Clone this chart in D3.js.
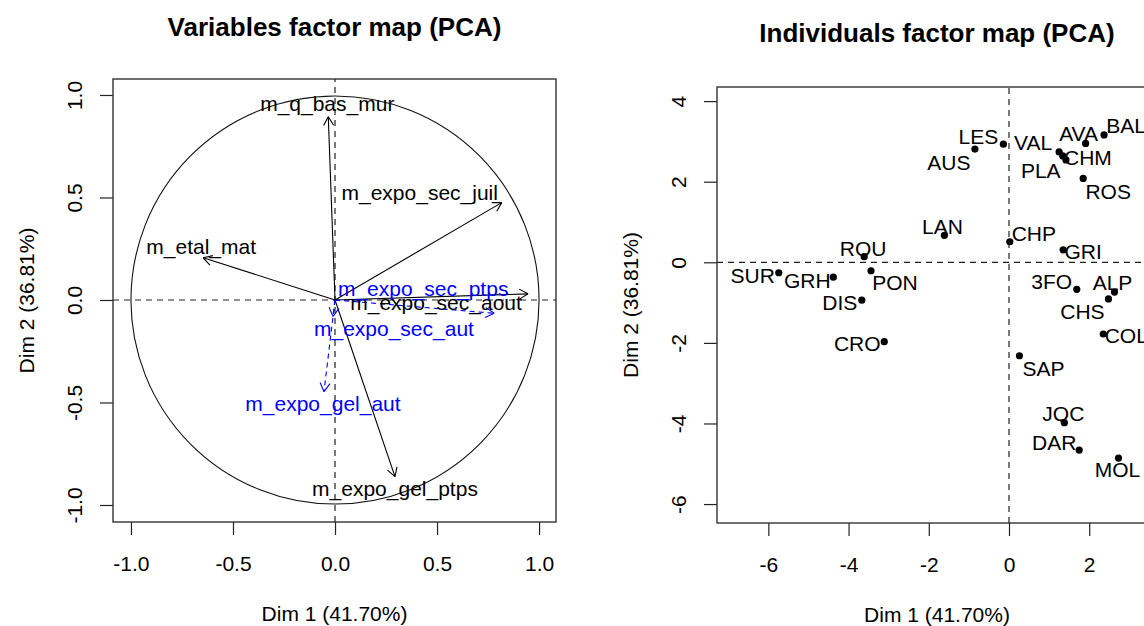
<!DOCTYPE html>
<html>
<head>
<meta charset="utf-8">
<script src="https://cdn.jsdelivr.net/npm/d3@7"></script>
<style>
  html, body { margin: 0; padding: 0; background: #fff; }
  svg { display: block; font-family: "Liberation Sans", Arial, sans-serif; }
</style>
</head>
<body>
<svg id="chart" width="1144" height="626"></svg>
<script>
// ---------------- DATA ----------------
// Variables factor map: active variables (black) and supplementary (blue, dashed)
const varNames = ["m_q_bas_mur", "m_expo_sec_juil", "m_etal_mat", "m_expo_sec_aout",
                  "m_expo_gel_ptps", "m_expo_sec_ptps", "m_expo_sec_aut", "m_expo_gel_aut"];
const varDim1 = [-0.033, 0.817, -0.646, 0.946, 0.294, 0.78, -0.01, -0.054];
const varDim2 = [0.894, 0.475, 0.206, 0.03, -0.862, -0.065, -0.08, -0.447];
const varSupp = [false, false, false, false, false, true, true, true];

// Individuals factor map
const indNames = ["LES", "AUS", "VAL", "PLA", "CHM", "AVA", "BAL", "ROS", "LAN", "CHP", "GRI",
                  "ROU", "SUR", "GRH", "PON", "DIS", "CRO", "3FO", "ALP", "CHS", "COL",
                  "SAP", "JQC", "DAR", "MOL"];
const indDim1 = [-0.14, -0.85, 1.25, 1.34, 1.42, 1.91, 2.37, 1.85, -1.61, 0.02, 1.35,
                 -3.61, -5.74, -4.38, -3.44, -3.67, -3.11, 1.69, 2.63, 2.48, 2.35,
                 0.26, 1.38, 1.75, 2.73];
const indDim2 = [2.93, 2.81, 2.74, 2.64, 2.54, 2.95, 3.16, 2.08, 0.67, 0.51, 0.31,
                 0.14, -0.26, -0.37, -0.21, -0.94, -1.97, -0.67, -0.74, -0.91, -1.78,
                 -2.32, -3.98, -4.66, -4.86];

// Tick labels
const varTicks = [-1.0, -0.5, 0.0, 0.5, 1.0];
const indTicksX = [-6, -4, -2, 0, 2];
const indTicksY = [-6, -4, -2, 0, 2, 4];

// Titles
const titleVar = "Variables factor map (PCA)";
const titleInd = "Individuals factor map (PCA)";
const xTitle = "Dim 1 (41.70%)";
const yTitle = "Dim 2 (36.81%)";

// ---------------- LAYOUT (label offsets in px, from mark to label centre) ----------------
const varLabelOffset = {
  "m_q_bas_mur": [-1, -13], "m_expo_sec_juil": [-82, -10], "m_etal_mat": [-2, -11],
  "m_expo_sec_aout": [-92, 9], "m_expo_gel_ptps": [0, 12], "m_expo_sec_ptps": [-71, -25],
  "m_expo_sec_aut": [61, 12], "m_expo_gel_aut": [-1, 12]
};
const indLabelOffset = {
  "LES": [-25, -8], "AUS": [-26, 13], "VAL": [-26, -9], "PLA": [-22, 15], "CHM": [22, -2],
  "AVA": [-7, -10], "BAL": [22, -9], "ROS": [25, 13], "LAN": [-2, -9], "CHP": [24, -8],
  "GRI": [20, 2], "ROU": [-1, -8], "SUR": [-26, 3], "GRH": [-26, 3], "PON": [24, 12],
  "DIS": [-22, 2], "CRO": [-27, 2], "3FO": [-25, -8], "ALP": [-2, -10], "CHS": [-26, 13],
  "COL": [23, 1], "SAP": [24, 13], "JQC": [-1, -9], "DAR": [-25, -8], "MOL": [-1, 11]
};

const svg = d3.select("#chart");
const FS = 21;

function dashedRefs(g, x, y) {
  g.append("line").attr("x1", x.range()[0]).attr("x2", x.range()[1])
    .attr("y1", y(0)).attr("y2", y(0))
    .attr("stroke", "#222").attr("stroke-width", 1.2).attr("stroke-dasharray", "6,5");
  g.append("line").attr("y1", y.range()[0]).attr("y2", y.range()[1])
    .attr("x1", x(0)).attr("x2", x(0))
    .attr("stroke", "#222").attr("stroke-width", 1.2).attr("stroke-dasharray", "6,5");
}

function drawFrame(x, y, xt, yt, fmt, title, titleY) {
  const g = svg.append("g");
  const xa = d3.axisBottom(x).tickValues(xt).tickSize(13).tickSizeOuter(0).tickFormat(fmt);
  const gx = g.append("g").attr("transform", `translate(0,${y.range()[0]})`).call(xa);
  gx.select(".domain").remove();
  gx.selectAll(".tick line").attr("stroke", "#222").attr("stroke-width", 1.2);
  gx.selectAll(".tick text").attr("y", 41).attr("dy", null)
    .attr("dominant-baseline", "central")
    .attr("font-size", FS).attr("font-family", "Liberation Sans, Arial, sans-serif").attr("fill", "#000");

  const ya = d3.axisLeft(y).tickValues(yt).tickSize(13).tickSizeOuter(0).tickFormat(fmt);
  const gy = g.append("g").attr("transform", `translate(${x.range()[0]},0)`).call(ya);
  gy.select(".domain").remove();
  gy.selectAll(".tick line").attr("stroke", "#222").attr("stroke-width", 1.2);
  gy.selectAll(".tick text").attr("x", 0).attr("y", -39).attr("dy", null)
    .attr("text-anchor", "middle").attr("dominant-baseline", "central")
    .attr("transform", "rotate(-90)")
    .attr("font-size", FS).attr("font-family", "Liberation Sans, Arial, sans-serif").attr("fill", "#000");

  // box
  const [x0, x1] = x.range(), [y0, y1] = y.range();
  g.append("rect").attr("x", x0).attr("y", y1).attr("width", x1 - x0).attr("height", y0 - y1)
    .attr("fill", "none").attr("stroke", "#333").attr("stroke-width", 1.4);

  const cx = (x0 + x1) / 2, cy = (y0 + y1) / 2;
  g.append("text").attr("x", cx).attr("y", titleY).attr("text-anchor", "middle")
    .attr("font-size", 26).attr("font-weight", "bold").attr("fill", "#000").text(title);
  g.append("text").attr("x", cx).attr("y", y0 + 91).attr("text-anchor", "middle")
    .attr("dominant-baseline", "central").attr("font-size", FS).attr("fill", "#000").text(xTitle);
  g.append("text").attr("transform", `translate(${x0 - 87},${cy}) rotate(-90)`)
    .attr("text-anchor", "middle").attr("dominant-baseline", "central")
    .attr("font-size", FS).attr("fill", "#000").text(yTitle);
  return g;
}

// ---------------- LEFT: variables ----------------
const xL = d3.scaleLinear().domain([-1.088, 1.083]).range([113, 556]);
const yL = d3.scaleLinear().domain([-1.083, 1.078]).range([522, 79]);
const fmtL = d => d.toFixed(1);
const gL = drawFrame(xL, yL, varTicks, varTicks, fmtL, titleVar, 36);

const plotL = gL.append("g");
dashedRefs(plotL, xL, yL);
plotL.append("circle").attr("cx", xL(0)).attr("cy", yL(0))
  .attr("r", xL(1) - xL(0)).attr("fill", "none").attr("stroke", "#111").attr("stroke-width", 1.1);

const vars = varNames.map((n, i) => ({ name: n, x: varDim1[i], y: varDim2[i], supp: varSupp[i] }));
vars.forEach(v => {
  const col = v.supp ? "#0000FF" : "#000";
  const ox = xL(0), oy = yL(0), tx = xL(v.x), ty = yL(v.y);
  const ln = plotL.append("g").attr("stroke", col).attr("stroke-width", 1.1).attr("fill", "none");
  if (v.supp) ln.attr("stroke-dasharray", "5,4");
  ln.append("line").attr("x1", ox).attr("y1", oy).attr("x2", tx).attr("y2", ty);
  const ang = Math.atan2(ty - oy, tx - ox), L = 10, a = Math.PI / 6;
  [ang + Math.PI - a, ang + Math.PI + a].forEach(t => {
    plotL.append("line").attr("x1", tx).attr("y1", ty)
      .attr("x2", tx + L * Math.cos(t)).attr("y2", ty + L * Math.sin(t))
      .attr("stroke", col).attr("stroke-width", 1.1);
  });
});
vars.forEach(v => {
  const off = varLabelOffset[v.name];
  plotL.append("text").attr("x", xL(v.x) + off[0]).attr("y", yL(v.y) + off[1])
    .attr("text-anchor", "middle").attr("dominant-baseline", "central")
    .attr("font-size", FS).attr("fill", v.supp ? "#0000FF" : "#000").text(v.name);
});

// ---------------- RIGHT: individuals ----------------
const xR = d3.scaleLinear().domain([-7.28, 3.69]).range([717, 1157]);
const yR = d3.scaleLinear().domain([-6.47, 4.35]).range([523, 87]);
const fmtR = d => String(d);
const gR = drawFrame(xR, yR, indTicksX, indTicksY, fmtR, titleInd, 42);
const plotR = gR.append("g");
dashedRefs(plotR, xR, yR);

const inds = indNames.map((n, i) => ({ name: n, x: indDim1[i], y: indDim2[i] }));
plotR.selectAll("circle.pt").data(inds).enter().append("circle")
  .attr("class", "pt").attr("cx", d => xR(d.x)).attr("cy", d => yR(d.y))
  .attr("r", 3.6).attr("fill", "#000");
plotR.selectAll("text.lab").data(inds).enter().append("text")
  .attr("class", "lab")
  .attr("x", d => xR(d.x) + indLabelOffset[d.name][0])
  .attr("y", d => yR(d.y) + indLabelOffset[d.name][1])
  .attr("text-anchor", "middle").attr("dominant-baseline", "central")
  .attr("font-size", FS).attr("fill", "#000").text(d => d.name);
</script>
</body>
</html>
